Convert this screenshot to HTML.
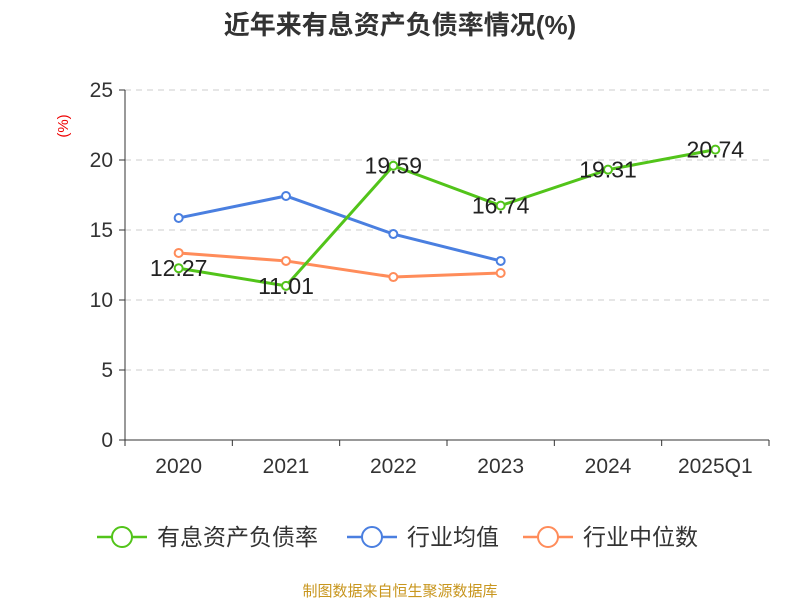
<!DOCTYPE html>
<html><head><meta charset="utf-8"><style>
body{margin:0;background:#fff;font-family:"Liberation Sans","Noto Sans CJK SC",sans-serif;}
</style></head><body>
<svg width="800" height="600" xmlns="http://www.w3.org/2000/svg" font-family="Liberation Sans, Noto Sans CJK SC, sans-serif">
<text x="400" y="34" text-anchor="middle" font-size="26" font-weight="bold" fill="#333">近年来有息资产负债率情况(%)</text>
<text x="68" y="126" transform="rotate(-90 68 126)" text-anchor="middle" font-size="15" fill="#e00">(%)</text>
<g id="grid"></g><g id="axes"></g><g id="series"></g>
<g font-size="23" fill="#333">
<g><line x1="97" y1="537" x2="147" y2="537" stroke="#52c41a" stroke-width="2.5"/><circle cx="122" cy="537" r="10" fill="#fff" stroke="#52c41a" stroke-width="2"/><text x="157" y="545">有息资产负债率</text></g>
<g><line x1="347" y1="537" x2="397" y2="537" stroke="#4a7fe0" stroke-width="2.5"/><circle cx="372" cy="537" r="10" fill="#fff" stroke="#4a7fe0" stroke-width="2"/><text x="407" y="545">行业均值</text></g>
<g><line x1="523" y1="537" x2="573" y2="537" stroke="#ff8c5a" stroke-width="2.5"/><circle cx="548" cy="537" r="10" fill="#fff" stroke="#ff8c5a" stroke-width="2"/><text x="583" y="545">行业中位数</text></g>
</g>
<text x="400" y="596" text-anchor="middle" font-size="15" fill="#c8961e">制图数据来自恒生聚源数据库</text>
</svg>
<script>
const categories=["2020","2021","2022","2023","2024","2025Q1"];
const debtRatio=[12.27,11.01,19.59,16.74,19.31,20.74];
const industryAvg=[15.86,17.43,14.71,12.79];
const industryMedian=[13.36,12.79,11.64,11.93];
const yTicks=[0,5,10,15,20,25];
const NS="http://www.w3.org/2000/svg";
const x0=125,x1=769,yb=440,yt=90,ymax=25;
const bw=(x1-x0)/categories.length;
const X=i=>x0+bw*(i+0.5);
const Y=v=>yb-(yb-yt)*v/ymax;
function mk(p,t,a){const e=document.createElementNS(NS,t);for(const k in a)e.setAttribute(k,a[k]);p.appendChild(e);return e;}
const grid=document.getElementById('grid'),axes=document.getElementById('axes'),ser=document.getElementById('series');
yTicks.forEach(v=>{
 if(v>0){const g=mk(grid,'line',{x1:x0,x2:x1,y1:Y(v),y2:Y(v),stroke:'#ccc','stroke-dasharray':'6,5'});
 
 }
 const tk=mk(axes,'line',{x1:x0-6,x2:x0,y1:Y(v),y2:Y(v),stroke:'#333'});
 
 
 const t=mk(axes,'text',{x:x0-12,y:Y(v)+7,'text-anchor':'end','font-size':21,fill:'#333'});t.textContent=v;
 
 
});
const ya=mk(axes,'line',{x1:x0,x2:x0,y1:yt,y2:yb,stroke:'#333'});


const xa=mk(axes,'line',{x1:x0,x2:x1,y1:yb,y2:yb,stroke:'#333'});


for(let i=0;i<=categories.length;i++){const l=mk(axes,'line',{x1:x0+bw*i,x2:x0+bw*i,y1:yb,y2:yb+6,stroke:'#333'});
 
 }
categories.forEach((c,i)=>{const t=mk(axes,'text',{x:X(i),y:yb+33,'text-anchor':'middle','font-size':21,fill:'#333'});t.textContent=c;
 
 });
function series(data,color,name,labels){
 const g=mk(ser,'g',{});
 
 
 const pl=mk(g,'polyline',{points:data.map((v,i)=>X(i)+','+Y(v)).join(' '),fill:'none',stroke:color,'stroke-width':3});
 
 
 data.forEach((v,i)=>{const c=mk(g,'circle',{cx:X(i),cy:Y(v),r:4,fill:'#fff',stroke:color,'stroke-width':2});
  
  
  if(labels){const t=mk(g,'text',{x:X(i),y:Y(v)+8,'text-anchor':'middle','font-size':23,fill:'#222'});t.textContent=v.toFixed(2);
  
  }
 });
}
series(industryAvg,'#4a7fe0','industry-avg-series',false);
series(industryMedian,'#ff8c5a','industry-median-series',false);
series(debtRatio,'#52c41a','debt-ratio-series',true);
</script>
</body></html>
